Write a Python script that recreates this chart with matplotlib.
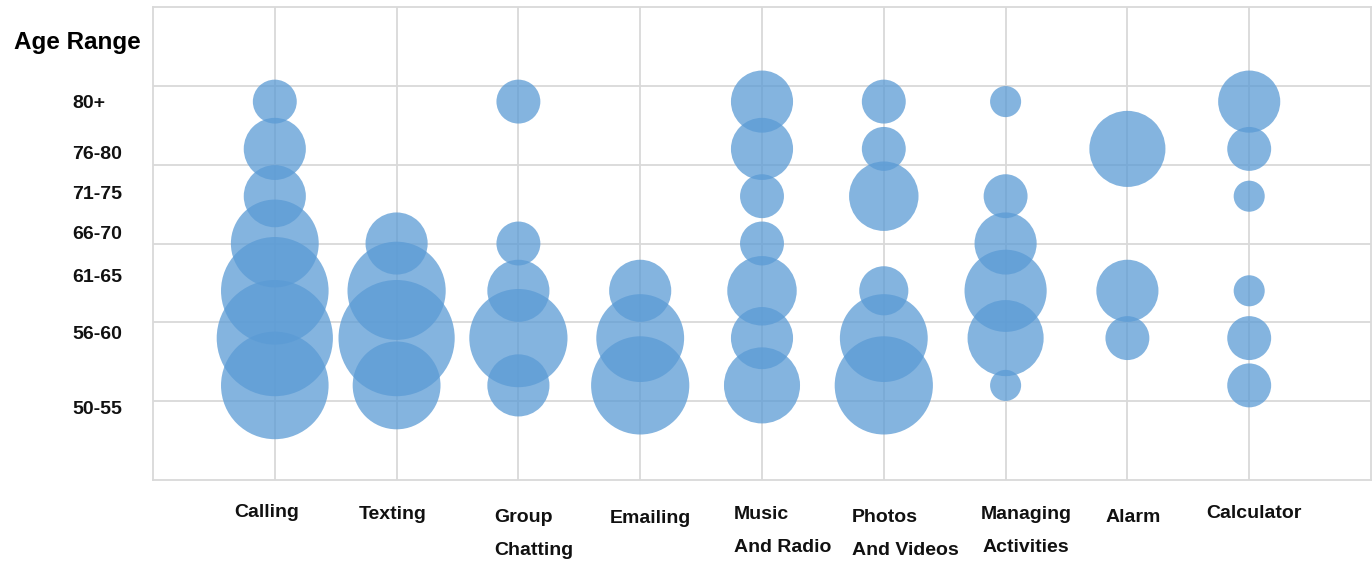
#%% import

import numpy as np
import matplotlib.pyplot as plt
from matplotlib import transforms


#%% data

categories = ['Calling', 'Texting', 'Group\nChatting', 'Emailing', 'Music\nAnd Radio',
              'Photos\nAnd Videos', 'Managing\nActivities', 'Alarm', 'Calculator']
age_ranges = ['50-55', '56-60', '61-65', '66-70', '71-75', '76-80', '80+']

# bubble sizes (relative counts) per category, ordered as age_ranges
calling    = [12, 14, 12, 8, 4, 4, 2]
texting    = [8, 14, 10, 4, 0, 0, 0]
group_chat = [4, 10, 4, 2, 0, 0, 2]
emailing   = [10, 8, 4, 0, 0, 0, 0]
music      = [6, 4, 5, 2, 2, 4, 4]
photos     = [10, 8, 2.5, 0, 5, 2, 2]
managing   = [1, 6, 7, 4, 2, 0, 1]
alarm      = [0, 2, 4, 0, 0, 6, 0]
calculator = [2, 2, 1, 0, 1, 2, 4]

series = [calling, texting, group_chat, emailing, music, photos, managing, alarm, calculator]


#%% layout

W, H = 1372, 564
plt.rcParams['font.family'] = ['Liberation Sans', 'DejaVu Sans']

fig = plt.figure(figsize=(W / 100, H / 100), dpi=100)
ax = fig.add_axes([153 / W, 84 / H, (1371 - 153) / W, (480 - 7) / H])

bubble_y = 1.2 + 0.6 * np.arange(len(age_ranges))
for i, vals in enumerate(series):
    vals = np.array(vals, dtype=float)
    keep = vals > 0
    ax.scatter(np.full(keep.sum(), i + 1), bubble_y[keep], s=500 * vals[keep],
               color='#5b9bd5', alpha=0.75, linewidths=0, zorder=3)

ax.set_xlim(0, 10)
ax.set_ylim(0, 6)
ax.set_xticks(np.arange(1, 10))
ax.set_yticks(np.arange(1, 6))
ax.tick_params(length=0, labelbottom=False, labelleft=False)
ax.grid(True, color='#d9d9d9', linewidth=1.3, zorder=0)
for sp in ax.spines.values():
    sp.set_color('#d9d9d9')
    sp.set_linewidth(1.3)

# y labels (placed loosely, as in the original)
label_y = [0.89, 1.85, 2.57, 3.11, 3.62, 4.13, 4.78]
trans_y = transforms.blended_transform_factory(ax.transAxes, ax.transData)
for lab, yy in zip(age_ranges, label_y):
    ax.text((72 - 153) / 1218, yy, lab, transform=trans_y, ha='left', va='center',
            fontsize=14, fontweight='bold', color='#111111')

fig.text(14 / W, 1 - 43 / H, 'Age Range', ha='left', va='center',
         fontsize=17.5, fontweight='bold', color='#000000')

# x labels
x_left_off = [-41, -38, -24, -30, -28, -32, -25, -22, -43]
x_line_y = [511, 513, 516, 517, 513, 516, 513, 516, 512]
for i, lab in enumerate(categories):
    px = 153 + (i + 1) * 121.8 + x_left_off[i]
    fig.text(px / W, 1 - (x_line_y[i] - 7) / H, lab, ha='left', va='top',
             multialignment='center' if i == 6 else 'left', linespacing=2.2,
             fontsize=14, fontweight='bold', color='#111111')

plt.savefig('out.png', dpi=100)
